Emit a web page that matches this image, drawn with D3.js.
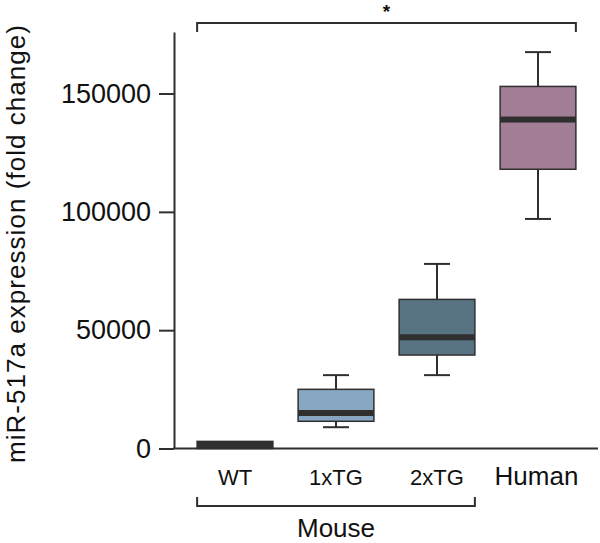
<!DOCTYPE html>
<html>
<head>
<meta charset="utf-8">
<script src="https://cdn.jsdelivr.net/npm/d3@7"></script>
<style>
  html, body { margin: 0; padding: 0; background: #fff; }
  svg { display: block; font-family: "Liberation Sans", Arial, Helvetica, sans-serif; }
</style>
</head>
<body>
<svg id="chart" width="600" height="543"></svg>
<script>
const categories = ["WT", "1xTG", "2xTG", "Human"];
const whiskerLow  = [0, 9000, 31000, 97000];
const q1          = [0, 11500, 39500, 118000];
const medians     = [1500, 15000, 47000, 139000];
const q3          = [3000, 25000, 63000, 153000];
const whiskerHigh = [3000, 31000, 78000, 167500];
const colors      = ["#2f2f2f", "#87a7c3", "#587482", "#a27e96"];
const yTicks      = [0, 50000, 100000, 150000];
const groupLabel  = "Mouse";
const sigLabel    = "*";
const yTitle      = "miR-517a expression (fold change)";

const svg = d3.select("#chart");
const ink = "#2f2f2f";

const x = d3.scaleBand().domain(categories).range([184.5, 588.5])
  .paddingInner(0.25).paddingOuter(0.125);
const y = d3.scaleLinear().domain([0, 176000]).range([448.5, 32]);

// Y axis
const yAxis = d3.axisLeft(y).tickValues(yTicks).tickSize(15).tickSizeOuter(0)
  .tickPadding(8).tickFormat(d3.format("d"));
const gy = svg.append("g").attr("transform", "translate(174,0)").call(yAxis);
gy.select(".domain").attr("stroke", ink).attr("stroke-width", 2);
gy.selectAll(".tick line").attr("stroke", ink).attr("stroke-width", 2);
gy.selectAll(".tick text").attr("font-size", 27).attr("fill", "#111")
  .attr("font-family", "'Liberation Sans', Arial, sans-serif");

// X baseline
svg.append("line").attr("x1", 173).attr("x2", 598)
  .attr("y1", y(0)).attr("y2", y(0)).attr("stroke", ink).attr("stroke-width", 2);

// Boxes
const data = categories.map((c, i) => ({
  c, lo: whiskerLow[i], q1: q1[i], med: medians[i], q3: q3[i], hi: whiskerHigh[i], color: colors[i]
}));
const bw = x.bandwidth();
const g = svg.append("g").selectAll("g").data(data).join("g");
g.filter(d => d.hi > d.q3).append("line")
  .attr("x1", d => x(d.c) + bw / 2).attr("x2", d => x(d.c) + bw / 2)
  .attr("y1", d => y(d.hi)).attr("y2", d => y(d.q3))
  .attr("stroke", ink).attr("stroke-width", 2);
g.filter(d => d.lo < d.q1).append("line")
  .attr("x1", d => x(d.c) + bw / 2).attr("x2", d => x(d.c) + bw / 2)
  .attr("y1", d => y(d.q1)).attr("y2", d => y(d.lo))
  .attr("stroke", ink).attr("stroke-width", 2);
g.filter(d => d.hi > d.q3).append("line")
  .attr("x1", d => x(d.c) + bw / 2 - 13).attr("x2", d => x(d.c) + bw / 2 + 13)
  .attr("y1", d => y(d.hi)).attr("y2", d => y(d.hi))
  .attr("stroke", ink).attr("stroke-width", 2);
g.filter(d => d.lo < d.q1).append("line")
  .attr("x1", d => x(d.c) + bw / 2 - 13).attr("x2", d => x(d.c) + bw / 2 + 13)
  .attr("y1", d => y(d.lo)).attr("y2", d => y(d.lo))
  .attr("stroke", ink).attr("stroke-width", 2);
g.append("rect")
  .attr("x", d => x(d.c)).attr("width", bw)
  .attr("y", d => y(d.q3)).attr("height", d => y(d.q1) - y(d.q3))
  .attr("fill", d => d.color).attr("stroke", ink).attr("stroke-width", 1.5);
g.append("rect")
  .attr("x", d => x(d.c)).attr("width", bw)
  .attr("y", d => y(d.med) - 3).attr("height", 6)
  .attr("fill", ink);

// Category labels
svg.append("g").selectAll("text").data(categories).join("text")
  .attr("x", d => x(d) + bw / 2 - (d === "Human" ? 1.5 : 0))
  .attr("y", 485)
  .attr("text-anchor", "middle")
  .attr("font-size", d => d === "Human" ? 26 : 22)
  .attr("fill", "#111")
  .text(d => d);

// Mouse bracket
const mx1 = x("WT"), mx2 = x("2xTG") + bw;
svg.append("path")
  .attr("d", `M${mx1},497V506H${mx2}V497`)
  .attr("fill", "none").attr("stroke", ink).attr("stroke-width", 2);
svg.append("text").attr("x", (mx1 + mx2) / 2).attr("y", 536.5)
  .attr("text-anchor", "middle").attr("font-size", 26).attr("fill", "#111")
  .text(groupLabel);

// Significance bracket
const sx1 = x("WT"), sx2 = x("Human") + bw;
svg.append("path")
  .attr("d", `M${sx1},32V23H${sx2}V32`)
  .attr("fill", "none").attr("stroke", ink).attr("stroke-width", 2);
svg.append("text").attr("x", (sx1 + sx2) / 2).attr("y", 18)
  .attr("text-anchor", "middle").attr("font-size", 19).attr("font-weight", "bold")
  .attr("fill", "#111").text(sigLabel);

// Y title
svg.append("text")
  .attr("transform", "translate(25,244) rotate(-90)")
  .attr("text-anchor", "middle").attr("font-size", 26).attr("fill", "#111")
  .attr("textLength", 438).attr("lengthAdjust", "spacing")
  .text(yTitle);
</script>
</body>
</html>
